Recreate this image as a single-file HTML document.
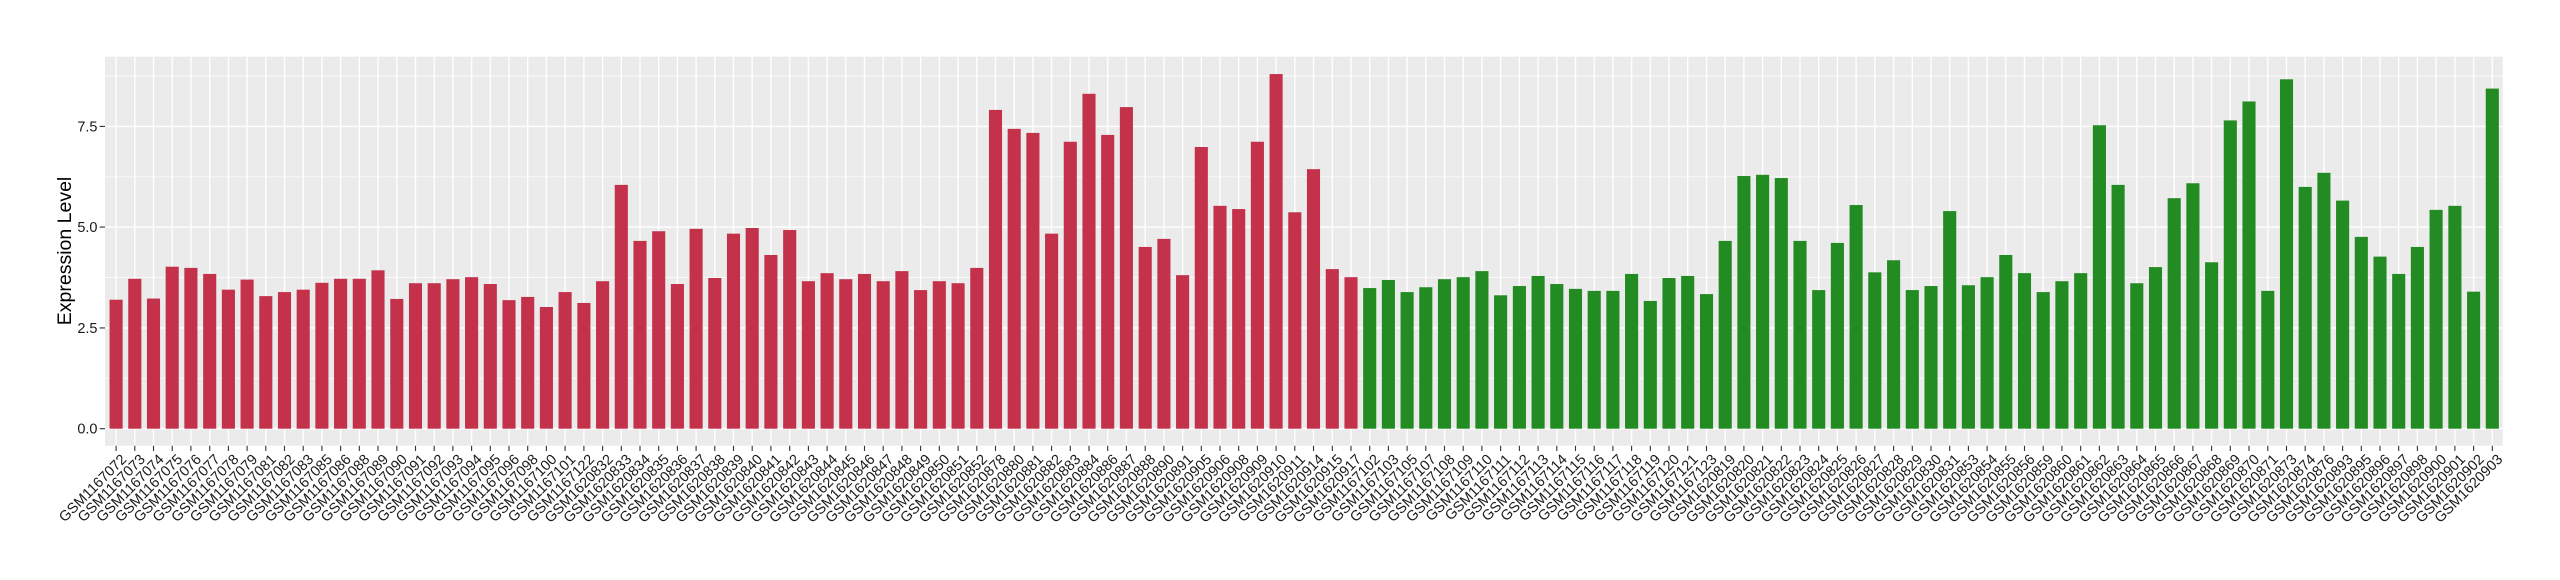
<!DOCTYPE html>
<html><head><meta charset="utf-8"><style>
html,body{margin:0;padding:0;background:#fff;}
svg{display:block;font-family:"Liberation Sans",Arial,sans-serif;}
.xl text{font-size:14.5px;fill:#1a1a1a;}
</style></head><body>
<svg width="2560" height="580" viewBox="0 0 2560 580" xmlns="http://www.w3.org/2000/svg">
<rect x="105" y="56.7" width="2397.7" height="389" fill="#EBEBEB"/>
<g stroke="#fff" stroke-width="0.7">
<line x1="105" x2="2502.7" y1="378.3" y2="378.3"/><line x1="105" x2="2502.7" y1="277.5" y2="277.5"/><line x1="105" x2="2502.7" y1="176.8" y2="176.8"/><line x1="105" x2="2502.7" y1="76" y2="76"/>
</g>
<g stroke="#fff" stroke-width="1.4">
<line x1="105" x2="2502.7" y1="428.7" y2="428.7"/><line x1="105" x2="2502.7" y1="327.9" y2="327.9"/><line x1="105" x2="2502.7" y1="227.1" y2="227.1"/><line x1="105" x2="2502.7" y1="126.4" y2="126.4"/>
</g>
<g stroke="#fff" stroke-width="1.4">
<path d="M116.1 56.7V445.7M134.8 56.7V445.7M153.5 56.7V445.7M172.2 56.7V445.7M190.9 56.7V445.7M209.7 56.7V445.7M228.4 56.7V445.7M247.1 56.7V445.7M265.8 56.7V445.7M284.5 56.7V445.7M303.2 56.7V445.7M321.9 56.7V445.7M340.6 56.7V445.7M359.3 56.7V445.7M378 56.7V445.7M396.8 56.7V445.7M415.5 56.7V445.7M434.2 56.7V445.7M452.9 56.7V445.7M471.6 56.7V445.7M490.3 56.7V445.7M509 56.7V445.7M527.7 56.7V445.7M546.4 56.7V445.7M565.1 56.7V445.7M583.9 56.7V445.7M602.6 56.7V445.7M621.3 56.7V445.7M640 56.7V445.7M658.7 56.7V445.7M677.4 56.7V445.7M696.1 56.7V445.7M714.8 56.7V445.7M733.5 56.7V445.7M752.2 56.7V445.7M770.9 56.7V445.7M789.7 56.7V445.7M808.4 56.7V445.7M827.1 56.7V445.7M845.8 56.7V445.7M864.5 56.7V445.7M883.2 56.7V445.7M901.9 56.7V445.7M920.6 56.7V445.7M939.3 56.7V445.7M958.1 56.7V445.7M976.8 56.7V445.7M995.5 56.7V445.7M1014.2 56.7V445.7M1032.9 56.7V445.7M1051.6 56.7V445.7M1070.3 56.7V445.7M1089 56.7V445.7M1107.7 56.7V445.7M1126.4 56.7V445.7M1145.2 56.7V445.7M1163.9 56.7V445.7M1182.6 56.7V445.7M1201.3 56.7V445.7M1220 56.7V445.7M1238.7 56.7V445.7M1257.4 56.7V445.7M1276.1 56.7V445.7M1294.8 56.7V445.7M1313.5 56.7V445.7M1332.3 56.7V445.7M1351 56.7V445.7M1369.7 56.7V445.7M1388.4 56.7V445.7M1407.1 56.7V445.7M1425.8 56.7V445.7M1444.5 56.7V445.7M1463.2 56.7V445.7M1481.9 56.7V445.7M1500.6 56.7V445.7M1519.4 56.7V445.7M1538.1 56.7V445.7M1556.8 56.7V445.7M1575.5 56.7V445.7M1594.2 56.7V445.7M1612.9 56.7V445.7M1631.6 56.7V445.7M1650.3 56.7V445.7M1669 56.7V445.7M1687.7 56.7V445.7M1706.5 56.7V445.7M1725.2 56.7V445.7M1743.9 56.7V445.7M1762.6 56.7V445.7M1781.3 56.7V445.7M1800 56.7V445.7M1818.7 56.7V445.7M1837.4 56.7V445.7M1856.1 56.7V445.7M1874.8 56.7V445.7M1893.6 56.7V445.7M1912.3 56.7V445.7M1931 56.7V445.7M1949.7 56.7V445.7M1968.4 56.7V445.7M1987.1 56.7V445.7M2005.8 56.7V445.7M2024.5 56.7V445.7M2043.2 56.7V445.7M2061.9 56.7V445.7M2080.7 56.7V445.7M2099.4 56.7V445.7M2118.1 56.7V445.7M2136.8 56.7V445.7M2155.5 56.7V445.7M2174.2 56.7V445.7M2192.9 56.7V445.7M2211.6 56.7V445.7M2230.3 56.7V445.7M2249 56.7V445.7M2267.8 56.7V445.7M2286.5 56.7V445.7M2305.2 56.7V445.7M2323.9 56.7V445.7M2342.6 56.7V445.7M2361.3 56.7V445.7M2380 56.7V445.7M2398.7 56.7V445.7M2417.4 56.7V445.7M2436.1 56.7V445.7M2454.9 56.7V445.7M2473.6 56.7V445.7M2492.3 56.7V445.7"/>
</g>
<g stroke="#333" stroke-width="1.1">
<path d="M116.1 445.7V451M134.8 445.7V451M153.5 445.7V451M172.2 445.7V451M190.9 445.7V451M209.7 445.7V451M228.4 445.7V451M247.1 445.7V451M265.8 445.7V451M284.5 445.7V451M303.2 445.7V451M321.9 445.7V451M340.6 445.7V451M359.3 445.7V451M378 445.7V451M396.8 445.7V451M415.5 445.7V451M434.2 445.7V451M452.9 445.7V451M471.6 445.7V451M490.3 445.7V451M509 445.7V451M527.7 445.7V451M546.4 445.7V451M565.1 445.7V451M583.9 445.7V451M602.6 445.7V451M621.3 445.7V451M640 445.7V451M658.7 445.7V451M677.4 445.7V451M696.1 445.7V451M714.8 445.7V451M733.5 445.7V451M752.2 445.7V451M770.9 445.7V451M789.7 445.7V451M808.4 445.7V451M827.1 445.7V451M845.8 445.7V451M864.5 445.7V451M883.2 445.7V451M901.9 445.7V451M920.6 445.7V451M939.3 445.7V451M958.1 445.7V451M976.8 445.7V451M995.5 445.7V451M1014.2 445.7V451M1032.9 445.7V451M1051.6 445.7V451M1070.3 445.7V451M1089 445.7V451M1107.7 445.7V451M1126.4 445.7V451M1145.2 445.7V451M1163.9 445.7V451M1182.6 445.7V451M1201.3 445.7V451M1220 445.7V451M1238.7 445.7V451M1257.4 445.7V451M1276.1 445.7V451M1294.8 445.7V451M1313.5 445.7V451M1332.3 445.7V451M1351 445.7V451M1369.7 445.7V451M1388.4 445.7V451M1407.1 445.7V451M1425.8 445.7V451M1444.5 445.7V451M1463.2 445.7V451M1481.9 445.7V451M1500.6 445.7V451M1519.4 445.7V451M1538.1 445.7V451M1556.8 445.7V451M1575.5 445.7V451M1594.2 445.7V451M1612.9 445.7V451M1631.6 445.7V451M1650.3 445.7V451M1669 445.7V451M1687.7 445.7V451M1706.5 445.7V451M1725.2 445.7V451M1743.9 445.7V451M1762.6 445.7V451M1781.3 445.7V451M1800 445.7V451M1818.7 445.7V451M1837.4 445.7V451M1856.1 445.7V451M1874.8 445.7V451M1893.6 445.7V451M1912.3 445.7V451M1931 445.7V451M1949.7 445.7V451M1968.4 445.7V451M1987.1 445.7V451M2005.8 445.7V451M2024.5 445.7V451M2043.2 445.7V451M2061.9 445.7V451M2080.7 445.7V451M2099.4 445.7V451M2118.1 445.7V451M2136.8 445.7V451M2155.5 445.7V451M2174.2 445.7V451M2192.9 445.7V451M2211.6 445.7V451M2230.3 445.7V451M2249 445.7V451M2267.8 445.7V451M2286.5 445.7V451M2305.2 445.7V451M2323.9 445.7V451M2342.6 445.7V451M2361.3 445.7V451M2380 445.7V451M2398.7 445.7V451M2417.4 445.7V451M2436.1 445.7V451M2454.9 445.7V451M2473.6 445.7V451M2492.3 445.7V451M99.7 428.7H105M99.7 327.9H105M99.7 227.1H105M99.7 126.4H105"/>
</g>
<g transform="matrix(1,0,0,-40.3,0,428.7)" fill="#C3314A">
<rect x="109.55" y="0" width="13.1" height="3.20"/><rect x="128.25" y="0" width="13.1" height="3.72"/><rect x="146.95" y="0" width="13.1" height="3.23"/><rect x="165.65" y="0" width="13.1" height="4.02"/><rect x="184.35" y="0" width="13.1" height="3.99"/><rect x="203.15" y="0" width="13.1" height="3.84"/><rect x="221.85" y="0" width="13.1" height="3.45"/><rect x="240.55" y="0" width="13.1" height="3.70"/><rect x="259.25" y="0" width="13.1" height="3.29"/><rect x="277.95" y="0" width="13.1" height="3.39"/><rect x="296.65" y="0" width="13.1" height="3.45"/><rect x="315.35" y="0" width="13.1" height="3.62"/><rect x="334.05" y="0" width="13.1" height="3.72"/><rect x="352.75" y="0" width="13.1" height="3.72"/><rect x="371.45" y="0" width="13.1" height="3.93"/><rect x="390.25" y="0" width="13.1" height="3.22"/><rect x="408.95" y="0" width="13.1" height="3.61"/><rect x="427.65" y="0" width="13.1" height="3.61"/><rect x="446.35" y="0" width="13.1" height="3.71"/><rect x="465.05" y="0" width="13.1" height="3.76"/><rect x="483.75" y="0" width="13.1" height="3.59"/><rect x="502.45" y="0" width="13.1" height="3.19"/><rect x="521.15" y="0" width="13.1" height="3.27"/><rect x="539.85" y="0" width="13.1" height="3.02"/><rect x="558.55" y="0" width="13.1" height="3.39"/><rect x="577.35" y="0" width="13.1" height="3.12"/><rect x="596.05" y="0" width="13.1" height="3.66"/><rect x="614.75" y="0" width="13.1" height="6.05"/><rect x="633.45" y="0" width="13.1" height="4.66"/><rect x="652.15" y="0" width="13.1" height="4.90"/><rect x="670.85" y="0" width="13.1" height="3.59"/><rect x="689.55" y="0" width="13.1" height="4.96"/><rect x="708.25" y="0" width="13.1" height="3.74"/><rect x="726.95" y="0" width="13.1" height="4.84"/><rect x="745.65" y="0" width="13.1" height="4.98"/><rect x="764.35" y="0" width="13.1" height="4.31"/><rect x="783.15" y="0" width="13.1" height="4.93"/><rect x="801.85" y="0" width="13.1" height="3.66"/><rect x="820.55" y="0" width="13.1" height="3.86"/><rect x="839.25" y="0" width="13.1" height="3.71"/><rect x="857.95" y="0" width="13.1" height="3.84"/><rect x="876.65" y="0" width="13.1" height="3.66"/><rect x="895.35" y="0" width="13.1" height="3.91"/><rect x="914.05" y="0" width="13.1" height="3.44"/><rect x="932.75" y="0" width="13.1" height="3.66"/><rect x="951.55" y="0" width="13.1" height="3.61"/><rect x="970.25" y="0" width="13.1" height="3.99"/><rect x="988.95" y="0" width="13.1" height="7.91"/><rect x="1007.65" y="0" width="13.1" height="7.44"/><rect x="1026.35" y="0" width="13.1" height="7.34"/><rect x="1045.05" y="0" width="13.1" height="4.84"/><rect x="1063.75" y="0" width="13.1" height="7.12"/><rect x="1082.45" y="0" width="13.1" height="8.31"/><rect x="1101.15" y="0" width="13.1" height="7.29"/><rect x="1119.85" y="0" width="13.1" height="7.98"/><rect x="1138.65" y="0" width="13.1" height="4.51"/><rect x="1157.35" y="0" width="13.1" height="4.71"/><rect x="1176.05" y="0" width="13.1" height="3.81"/><rect x="1194.75" y="0" width="13.1" height="6.99"/><rect x="1213.45" y="0" width="13.1" height="5.53"/><rect x="1232.15" y="0" width="13.1" height="5.45"/><rect x="1250.85" y="0" width="13.1" height="7.12"/><rect x="1269.55" y="0" width="13.1" height="8.80"/><rect x="1288.25" y="0" width="13.1" height="5.37"/><rect x="1306.95" y="0" width="13.1" height="6.44"/><rect x="1325.75" y="0" width="13.1" height="3.96"/><rect x="1344.45" y="0" width="13.1" height="3.76"/>
</g>
<g transform="matrix(1,0,0,-40.3,0,428.7)" fill="#228B22">
<rect x="1363.15" y="0" width="13.1" height="3.49"/><rect x="1381.85" y="0" width="13.1" height="3.69"/><rect x="1400.55" y="0" width="13.1" height="3.39"/><rect x="1419.25" y="0" width="13.1" height="3.51"/><rect x="1437.95" y="0" width="13.1" height="3.71"/><rect x="1456.65" y="0" width="13.1" height="3.76"/><rect x="1475.35" y="0" width="13.1" height="3.91"/><rect x="1494.05" y="0" width="13.1" height="3.31"/><rect x="1512.85" y="0" width="13.1" height="3.54"/><rect x="1531.55" y="0" width="13.1" height="3.79"/><rect x="1550.25" y="0" width="13.1" height="3.59"/><rect x="1568.95" y="0" width="13.1" height="3.47"/><rect x="1587.65" y="0" width="13.1" height="3.42"/><rect x="1606.35" y="0" width="13.1" height="3.42"/><rect x="1625.05" y="0" width="13.1" height="3.84"/><rect x="1643.75" y="0" width="13.1" height="3.17"/><rect x="1662.45" y="0" width="13.1" height="3.74"/><rect x="1681.15" y="0" width="13.1" height="3.79"/><rect x="1699.95" y="0" width="13.1" height="3.34"/><rect x="1718.65" y="0" width="13.1" height="4.66"/><rect x="1737.35" y="0" width="13.1" height="6.27"/><rect x="1756.05" y="0" width="13.1" height="6.30"/><rect x="1774.75" y="0" width="13.1" height="6.22"/><rect x="1793.45" y="0" width="13.1" height="4.66"/><rect x="1812.15" y="0" width="13.1" height="3.44"/><rect x="1830.85" y="0" width="13.1" height="4.61"/><rect x="1849.55" y="0" width="13.1" height="5.55"/><rect x="1868.25" y="0" width="13.1" height="3.88"/><rect x="1887.05" y="0" width="13.1" height="4.18"/><rect x="1905.75" y="0" width="13.1" height="3.44"/><rect x="1924.45" y="0" width="13.1" height="3.54"/><rect x="1943.15" y="0" width="13.1" height="5.40"/><rect x="1961.85" y="0" width="13.1" height="3.56"/><rect x="1980.55" y="0" width="13.1" height="3.76"/><rect x="1999.25" y="0" width="13.1" height="4.31"/><rect x="2017.95" y="0" width="13.1" height="3.86"/><rect x="2036.65" y="0" width="13.1" height="3.39"/><rect x="2055.35" y="0" width="13.1" height="3.66"/><rect x="2074.15" y="0" width="13.1" height="3.86"/><rect x="2092.85" y="0" width="13.1" height="7.53"/><rect x="2111.55" y="0" width="13.1" height="6.05"/><rect x="2130.25" y="0" width="13.1" height="3.61"/><rect x="2148.95" y="0" width="13.1" height="4.01"/><rect x="2167.65" y="0" width="13.1" height="5.72"/><rect x="2186.35" y="0" width="13.1" height="6.09"/><rect x="2205.05" y="0" width="13.1" height="4.13"/><rect x="2223.75" y="0" width="13.1" height="7.65"/><rect x="2242.45" y="0" width="13.1" height="8.12"/><rect x="2261.25" y="0" width="13.1" height="3.42"/><rect x="2279.95" y="0" width="13.1" height="8.67"/><rect x="2298.65" y="0" width="13.1" height="6.00"/><rect x="2317.35" y="0" width="13.1" height="6.35"/><rect x="2336.05" y="0" width="13.1" height="5.66"/><rect x="2354.75" y="0" width="13.1" height="4.76"/><rect x="2373.45" y="0" width="13.1" height="4.27"/><rect x="2392.15" y="0" width="13.1" height="3.84"/><rect x="2410.85" y="0" width="13.1" height="4.51"/><rect x="2429.55" y="0" width="13.1" height="5.43"/><rect x="2448.35" y="0" width="13.1" height="5.53"/><rect x="2467.05" y="0" width="13.1" height="3.40"/><rect x="2485.75" y="0" width="13.1" height="8.44"/>
</g>
<g font-size="14.5" fill="#1a1a1a" text-anchor="end">
<text x="97.5" y="433.7">0.0</text><text x="97.5" y="332.9">2.5</text><text x="97.5" y="232.1">5.0</text><text x="97.5" y="131.4">7.5</text>
</g>
<text transform="translate(71,251) rotate(-90)" text-anchor="middle" font-size="19.5" fill="#000">Expression Level</text>
<g class="xl" text-anchor="end">
<text transform="translate(120.1,453) rotate(-45)" dy="0.7em">GSM1167072</text>
<text transform="translate(138.8,453) rotate(-45)" dy="0.7em">GSM1167073</text>
<text transform="translate(157.5,453) rotate(-45)" dy="0.7em">GSM1167074</text>
<text transform="translate(176.2,453) rotate(-45)" dy="0.7em">GSM1167075</text>
<text transform="translate(194.9,453) rotate(-45)" dy="0.7em">GSM1167076</text>
<text transform="translate(213.7,453) rotate(-45)" dy="0.7em">GSM1167077</text>
<text transform="translate(232.4,453) rotate(-45)" dy="0.7em">GSM1167078</text>
<text transform="translate(251.1,453) rotate(-45)" dy="0.7em">GSM1167079</text>
<text transform="translate(269.8,453) rotate(-45)" dy="0.7em">GSM1167081</text>
<text transform="translate(288.5,453) rotate(-45)" dy="0.7em">GSM1167082</text>
<text transform="translate(307.2,453) rotate(-45)" dy="0.7em">GSM1167083</text>
<text transform="translate(325.9,453) rotate(-45)" dy="0.7em">GSM1167085</text>
<text transform="translate(344.6,453) rotate(-45)" dy="0.7em">GSM1167086</text>
<text transform="translate(363.3,453) rotate(-45)" dy="0.7em">GSM1167088</text>
<text transform="translate(382,453) rotate(-45)" dy="0.7em">GSM1167089</text>
<text transform="translate(400.8,453) rotate(-45)" dy="0.7em">GSM1167090</text>
<text transform="translate(419.5,453) rotate(-45)" dy="0.7em">GSM1167091</text>
<text transform="translate(438.2,453) rotate(-45)" dy="0.7em">GSM1167092</text>
<text transform="translate(456.9,453) rotate(-45)" dy="0.7em">GSM1167093</text>
<text transform="translate(475.6,453) rotate(-45)" dy="0.7em">GSM1167094</text>
<text transform="translate(494.3,453) rotate(-45)" dy="0.7em">GSM1167095</text>
<text transform="translate(513,453) rotate(-45)" dy="0.7em">GSM1167096</text>
<text transform="translate(531.7,453) rotate(-45)" dy="0.7em">GSM1167098</text>
<text transform="translate(550.4,453) rotate(-45)" dy="0.7em">GSM1167100</text>
<text transform="translate(569.1,453) rotate(-45)" dy="0.7em">GSM1167101</text>
<text transform="translate(587.9,453) rotate(-45)" dy="0.7em">GSM1167122</text>
<text transform="translate(606.6,453) rotate(-45)" dy="0.7em">GSM1620832</text>
<text transform="translate(625.3,453) rotate(-45)" dy="0.7em">GSM1620833</text>
<text transform="translate(644,453) rotate(-45)" dy="0.7em">GSM1620834</text>
<text transform="translate(662.7,453) rotate(-45)" dy="0.7em">GSM1620835</text>
<text transform="translate(681.4,453) rotate(-45)" dy="0.7em">GSM1620836</text>
<text transform="translate(700.1,453) rotate(-45)" dy="0.7em">GSM1620837</text>
<text transform="translate(718.8,453) rotate(-45)" dy="0.7em">GSM1620838</text>
<text transform="translate(737.5,453) rotate(-45)" dy="0.7em">GSM1620839</text>
<text transform="translate(756.2,453) rotate(-45)" dy="0.7em">GSM1620840</text>
<text transform="translate(774.9,453) rotate(-45)" dy="0.7em">GSM1620841</text>
<text transform="translate(793.7,453) rotate(-45)" dy="0.7em">GSM1620842</text>
<text transform="translate(812.4,453) rotate(-45)" dy="0.7em">GSM1620843</text>
<text transform="translate(831.1,453) rotate(-45)" dy="0.7em">GSM1620844</text>
<text transform="translate(849.8,453) rotate(-45)" dy="0.7em">GSM1620845</text>
<text transform="translate(868.5,453) rotate(-45)" dy="0.7em">GSM1620846</text>
<text transform="translate(887.2,453) rotate(-45)" dy="0.7em">GSM1620847</text>
<text transform="translate(905.9,453) rotate(-45)" dy="0.7em">GSM1620848</text>
<text transform="translate(924.6,453) rotate(-45)" dy="0.7em">GSM1620849</text>
<text transform="translate(943.3,453) rotate(-45)" dy="0.7em">GSM1620850</text>
<text transform="translate(962.1,453) rotate(-45)" dy="0.7em">GSM1620851</text>
<text transform="translate(980.8,453) rotate(-45)" dy="0.7em">GSM1620852</text>
<text transform="translate(999.5,453) rotate(-45)" dy="0.7em">GSM1620878</text>
<text transform="translate(1018.2,453) rotate(-45)" dy="0.7em">GSM1620880</text>
<text transform="translate(1036.9,453) rotate(-45)" dy="0.7em">GSM1620881</text>
<text transform="translate(1055.6,453) rotate(-45)" dy="0.7em">GSM1620882</text>
<text transform="translate(1074.3,453) rotate(-45)" dy="0.7em">GSM1620883</text>
<text transform="translate(1093,453) rotate(-45)" dy="0.7em">GSM1620884</text>
<text transform="translate(1111.7,453) rotate(-45)" dy="0.7em">GSM1620886</text>
<text transform="translate(1130.4,453) rotate(-45)" dy="0.7em">GSM1620887</text>
<text transform="translate(1149.2,453) rotate(-45)" dy="0.7em">GSM1620888</text>
<text transform="translate(1167.9,453) rotate(-45)" dy="0.7em">GSM1620890</text>
<text transform="translate(1186.6,453) rotate(-45)" dy="0.7em">GSM1620891</text>
<text transform="translate(1205.3,453) rotate(-45)" dy="0.7em">GSM1620905</text>
<text transform="translate(1224,453) rotate(-45)" dy="0.7em">GSM1620906</text>
<text transform="translate(1242.7,453) rotate(-45)" dy="0.7em">GSM1620908</text>
<text transform="translate(1261.4,453) rotate(-45)" dy="0.7em">GSM1620909</text>
<text transform="translate(1280.1,453) rotate(-45)" dy="0.7em">GSM1620910</text>
<text transform="translate(1298.8,453) rotate(-45)" dy="0.7em">GSM1620911</text>
<text transform="translate(1317.5,453) rotate(-45)" dy="0.7em">GSM1620914</text>
<text transform="translate(1336.3,453) rotate(-45)" dy="0.7em">GSM1620915</text>
<text transform="translate(1355,453) rotate(-45)" dy="0.7em">GSM1620917</text>
<text transform="translate(1373.7,453) rotate(-45)" dy="0.7em">GSM1167102</text>
<text transform="translate(1392.4,453) rotate(-45)" dy="0.7em">GSM1167103</text>
<text transform="translate(1411.1,453) rotate(-45)" dy="0.7em">GSM1167105</text>
<text transform="translate(1429.8,453) rotate(-45)" dy="0.7em">GSM1167107</text>
<text transform="translate(1448.5,453) rotate(-45)" dy="0.7em">GSM1167108</text>
<text transform="translate(1467.2,453) rotate(-45)" dy="0.7em">GSM1167109</text>
<text transform="translate(1485.9,453) rotate(-45)" dy="0.7em">GSM1167110</text>
<text transform="translate(1504.6,453) rotate(-45)" dy="0.7em">GSM1167111</text>
<text transform="translate(1523.4,453) rotate(-45)" dy="0.7em">GSM1167112</text>
<text transform="translate(1542.1,453) rotate(-45)" dy="0.7em">GSM1167113</text>
<text transform="translate(1560.8,453) rotate(-45)" dy="0.7em">GSM1167114</text>
<text transform="translate(1579.5,453) rotate(-45)" dy="0.7em">GSM1167115</text>
<text transform="translate(1598.2,453) rotate(-45)" dy="0.7em">GSM1167116</text>
<text transform="translate(1616.9,453) rotate(-45)" dy="0.7em">GSM1167117</text>
<text transform="translate(1635.6,453) rotate(-45)" dy="0.7em">GSM1167118</text>
<text transform="translate(1654.3,453) rotate(-45)" dy="0.7em">GSM1167119</text>
<text transform="translate(1673,453) rotate(-45)" dy="0.7em">GSM1167120</text>
<text transform="translate(1691.7,453) rotate(-45)" dy="0.7em">GSM1167121</text>
<text transform="translate(1710.5,453) rotate(-45)" dy="0.7em">GSM1167123</text>
<text transform="translate(1729.2,453) rotate(-45)" dy="0.7em">GSM1620819</text>
<text transform="translate(1747.9,453) rotate(-45)" dy="0.7em">GSM1620820</text>
<text transform="translate(1766.6,453) rotate(-45)" dy="0.7em">GSM1620821</text>
<text transform="translate(1785.3,453) rotate(-45)" dy="0.7em">GSM1620822</text>
<text transform="translate(1804,453) rotate(-45)" dy="0.7em">GSM1620823</text>
<text transform="translate(1822.7,453) rotate(-45)" dy="0.7em">GSM1620824</text>
<text transform="translate(1841.4,453) rotate(-45)" dy="0.7em">GSM1620825</text>
<text transform="translate(1860.1,453) rotate(-45)" dy="0.7em">GSM1620826</text>
<text transform="translate(1878.8,453) rotate(-45)" dy="0.7em">GSM1620827</text>
<text transform="translate(1897.6,453) rotate(-45)" dy="0.7em">GSM1620828</text>
<text transform="translate(1916.3,453) rotate(-45)" dy="0.7em">GSM1620829</text>
<text transform="translate(1935,453) rotate(-45)" dy="0.7em">GSM1620830</text>
<text transform="translate(1953.7,453) rotate(-45)" dy="0.7em">GSM1620831</text>
<text transform="translate(1972.4,453) rotate(-45)" dy="0.7em">GSM1620853</text>
<text transform="translate(1991.1,453) rotate(-45)" dy="0.7em">GSM1620854</text>
<text transform="translate(2009.8,453) rotate(-45)" dy="0.7em">GSM1620855</text>
<text transform="translate(2028.5,453) rotate(-45)" dy="0.7em">GSM1620856</text>
<text transform="translate(2047.2,453) rotate(-45)" dy="0.7em">GSM1620859</text>
<text transform="translate(2065.9,453) rotate(-45)" dy="0.7em">GSM1620860</text>
<text transform="translate(2084.7,453) rotate(-45)" dy="0.7em">GSM1620861</text>
<text transform="translate(2103.4,453) rotate(-45)" dy="0.7em">GSM1620862</text>
<text transform="translate(2122.1,453) rotate(-45)" dy="0.7em">GSM1620863</text>
<text transform="translate(2140.8,453) rotate(-45)" dy="0.7em">GSM1620864</text>
<text transform="translate(2159.5,453) rotate(-45)" dy="0.7em">GSM1620865</text>
<text transform="translate(2178.2,453) rotate(-45)" dy="0.7em">GSM1620866</text>
<text transform="translate(2196.9,453) rotate(-45)" dy="0.7em">GSM1620867</text>
<text transform="translate(2215.6,453) rotate(-45)" dy="0.7em">GSM1620868</text>
<text transform="translate(2234.3,453) rotate(-45)" dy="0.7em">GSM1620869</text>
<text transform="translate(2253,453) rotate(-45)" dy="0.7em">GSM1620870</text>
<text transform="translate(2271.8,453) rotate(-45)" dy="0.7em">GSM1620871</text>
<text transform="translate(2290.5,453) rotate(-45)" dy="0.7em">GSM1620873</text>
<text transform="translate(2309.2,453) rotate(-45)" dy="0.7em">GSM1620874</text>
<text transform="translate(2327.9,453) rotate(-45)" dy="0.7em">GSM1620876</text>
<text transform="translate(2346.6,453) rotate(-45)" dy="0.7em">GSM1620893</text>
<text transform="translate(2365.3,453) rotate(-45)" dy="0.7em">GSM1620895</text>
<text transform="translate(2384,453) rotate(-45)" dy="0.7em">GSM1620896</text>
<text transform="translate(2402.7,453) rotate(-45)" dy="0.7em">GSM1620897</text>
<text transform="translate(2421.4,453) rotate(-45)" dy="0.7em">GSM1620898</text>
<text transform="translate(2440.1,453) rotate(-45)" dy="0.7em">GSM1620900</text>
<text transform="translate(2458.9,453) rotate(-45)" dy="0.7em">GSM1620901</text>
<text transform="translate(2477.6,453) rotate(-45)" dy="0.7em">GSM1620902</text>
<text transform="translate(2496.3,453) rotate(-45)" dy="0.7em">GSM1620903</text>
</g>
</svg>
</body></html>
